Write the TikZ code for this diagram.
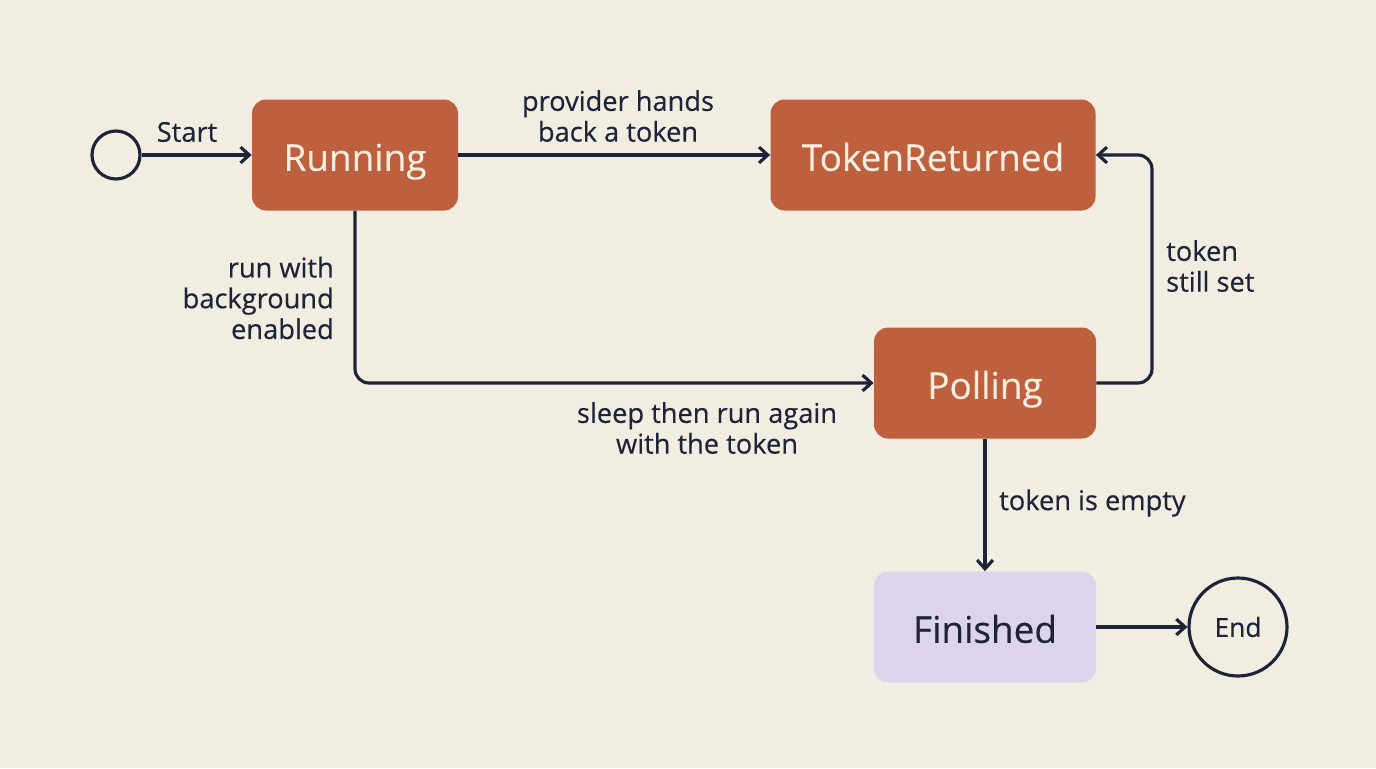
\documentclass[tikz,border=0pt]{standalone}
\usepackage{fontspec}
\setmainfont{Open Sans}
\usetikzlibrary{arrows.meta}
\definecolor{bg}{HTML}{F2EDE1}
\definecolor{st}{HTML}{BE5F3E}
\definecolor{stt}{HTML}{F7EDE0}
\definecolor{fin}{HTML}{DDD3EC}
\definecolor{ink}{HTML}{1E2438}
\newcommand{\semi}{\addfontfeature{FakeBold=0.35}}
\begin{document}
\begin{tikzpicture}[x=0.02cm,y=-0.02cm,
  state/.style={rectangle,rounded corners=8pt,fill=st,text=stt,font=\fontsize{21}{25}\selectfont\semi,minimum height=111*0.02cm,text height=18pt,text depth=0pt},
  term/.style={circle,draw=ink,line width=1.8pt,text=ink,font=\fontsize{15}{18}\selectfont\semi},
  arr/.style={-{Straight Barb[length=5pt,width=9pt]},draw=ink,line width=1.8pt,rounded corners=8pt},
  lab/.style={text=ink,font=\fontsize{15.5}{17.5}\selectfont\semi}]
\fill[bg] (0,0) rectangle (1376,768);
\useasboundingbox (0,0) rectangle (1376,768);
\node[term,minimum size=48*0.02cm,inner sep=0pt] (s) at (116,155) {};
\node[state,minimum width=206*0.02cm] (r) at (355,155) {Running};
\node[state,minimum width=325*0.02cm] (t) at (933,155) {TokenReturned};
\node[state,minimum width=222*0.02cm] (p) at (985,383) {Polling};
\node[state,minimum width=222*0.02cm,fill=fin,text=ink] (f) at (985,627) {Finished};
\node[term,minimum size=98*0.02cm,inner sep=0pt] (e) at (1238,627) {End};
\coordinate (c1) at (355,383);
\coordinate (c2) at (1152,383);
\coordinate (c3) at (1152,155);
\draw[arr] (s) -- (r);
\draw[arr] (r) -- (t);
\draw[arr] (r.south) -- (c1) -- (p.west);
\draw[arr] (p.east) -- (c2) -- (c3) -- (t.east);
\draw[arr] (p) -- (f);
\draw[arr] (f) -- (e);
\node[lab] (l1) at (187,132) {Start};
\node[lab,align=center] (l2) at (618,116) {provider hands\\back a token};
\node[lab,align=right,anchor=east] (l3) at (340,298) {run with\\background\\enabled};
\node[lab,align=center] (l4) at (707,428) {sleep then run again\\with the token};
\node[lab,align=left,anchor=west] (l5) at (1160,266) {token\\still set};
\node[lab,anchor=west] (l6) at (993,503) {token is empty};
\end{tikzpicture}
\end{document}
